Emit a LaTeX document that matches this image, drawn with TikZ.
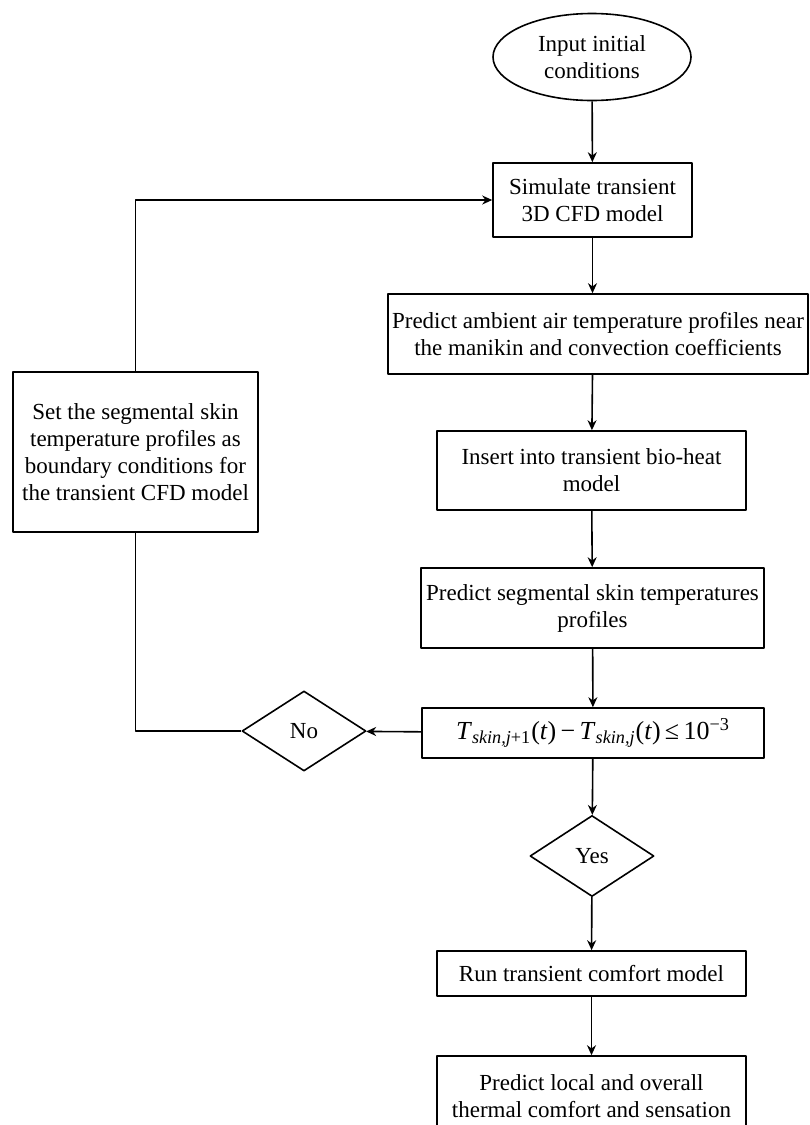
\documentclass[tikz,border=0pt]{standalone}
\usepackage{fontspec}
\setmainfont{Liberation Serif}
\usetikzlibrary{shapes.geometric,arrows.meta}
\tikzset{
 box/.style={draw, rectangle, align=center, inner sep=0pt},
 decision/.style={draw, diamond, align=center, inner sep=0pt},
}
\begin{document}
\begin{tikzpicture}[x=0.5pt, y=-0.5pt, font=\fontsize{11.5}{13.5}\selectfont, line join=round, line width=0.8pt, >={Stealth[length=5pt,width=4.5pt]}]
 \useasboundingbox (0,0) rectangle (809,1125);
 \node[draw, ellipse, align=center, inner sep=0pt, minimum width=99pt, minimum height=43.5pt] (input) at (592,57) {Input initial\\conditions};
 \node[box, minimum width=99.5pt, minimum height=37pt] (sim) at (592.5,200) {Simulate transient\\3D CFD model};
 \node[box, minimum width=210pt, minimum height=40pt] (amb) at (598,334) {Predict ambient air temperature profiles near\\the manikin and convection coefficients};
 \node[box, minimum width=154.5pt, minimum height=39.5pt] (ins) at (591.5,470.5) {Insert into transient bio-heat\\model};
 \node[box, minimum width=171.5pt, minimum height=40pt] (seg) at (592.5,608) {Predict segmental skin temperatures\\profiles};
 \node[box, minimum width=171pt, minimum height=25pt, font=\fontsize{13}{15}\selectfont] (chk) at (593,733) {\textit{T}\textsubscript{\textit{skin,j}+1}(\textit{t})\,−\,\textit{T}\textsubscript{\textit{skin,j}}(\textit{t})\,≤\,10\textsuperscript{−3}};
 \node[decision, minimum width=62pt, minimum height=40pt] (no) at (304,731) {No};
 \node[decision, minimum width=62pt, minimum height=40.5pt] (yes) at (592,856) {Yes};
 \node[box, minimum width=154.5pt, minimum height=22.5pt] (run) at (591.5,973.5) {Run transient comfort model};
 \node[box, minimum width=154.5pt, minimum height=40pt] (fin) at (591.5,1096) {Predict local and overall\\thermal comfort and sensation};
 \node[box, minimum width=122.5pt, minimum height=80pt] (set) at (135.5,452) {Set the segmental skin\\temperature profiles as\\boundary conditions for\\the transient CFD model};
 \draw[->] (input) -- (sim);
 \draw[->] (sim) -- (sim |- amb.north);
 \draw[->] (sim |- amb.south) -- (ins);
 \draw[->] (ins) -- (seg);
 \draw[->] (seg) -- (chk);
 \draw[->] (chk) -- (yes);
 \draw[->] (yes) -- (run);
 \draw[->] (run) -- (fin);
 \draw[->] (chk) -- (no);
 \draw (no.west) -| (set.south);
 \draw[->] (set.north) |- (sim.west);
\end{tikzpicture}
\end{document}
